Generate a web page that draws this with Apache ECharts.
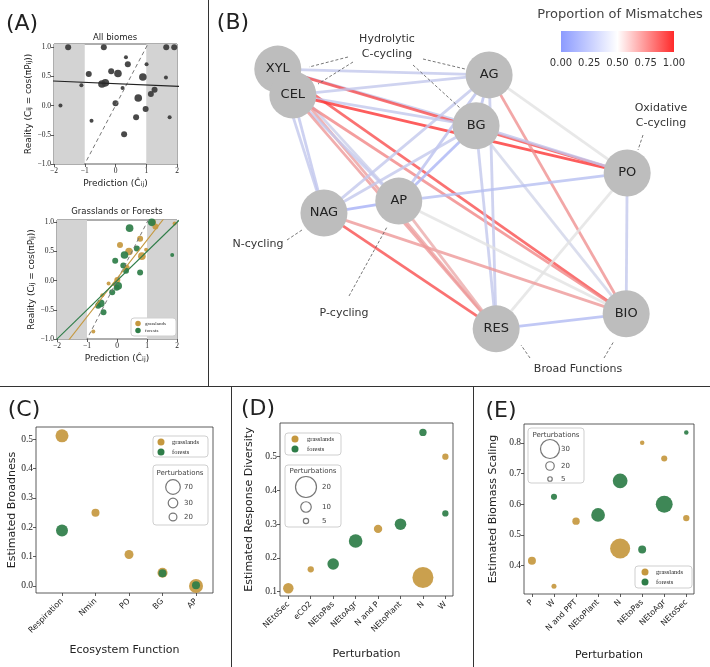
<!DOCTYPE html>
<html><head><meta charset="utf-8">
<script src="https://cdn.jsdelivr.net/npm/echarts@6/dist/echarts.min.js"></script>
<style>html,body{margin:0;padding:0;background:#fff}#c{width:710px;height:667px}</style>
</head><body><div id="c"></div>
<script>
// ================= DATA =================
// Panel A (top): all biomes  [prediction, reality, size class]
const aAllX = [-1.54,-0.38,1.65,1.91,0.34,0.40,1.01,-0.87,-0.14,0.08,0.89,1.64,-1.11,-0.44,-0.33,0.23,1.27,1.15,-1.79,0.00,0.74,0.98,0.67,-0.78,1.76,0.28];
const aAllY = [1.00,1.00,1.00,1.00,0.83,0.71,0.71,0.54,0.59,0.55,0.49,0.48,0.35,0.37,0.39,0.30,0.27,0.20,0.00,0.04,0.13,-0.06,-0.20,-0.26,-0.20,-0.49];
const aAllS = [2,2,2,2,1,2,1,2,2,3,3,1,1,3,3,1,2,2,1,2,3,2,2,1,1,2];
const aAllFit = [-0.0225, 0.375];           // slope, intercept
// Panel A (bottom): grasslands / forests
const aGrassX = [0.77,0.10,0.40,0.83,0.97,1.28,1.92,0.32,0.01,-0.28,-0.49,-0.64,-0.79,-0.09,1.20];
const aGrassY = [0.72,0.61,0.50,0.42,0.53,0.93,0.98,0.22,0.01,-0.05,-0.25,-0.40,-0.87,-0.06,1.00];
const aGrassS = [2,2,3,3,1,2,1,2,2,1,1,1,1,1,2];
const aForestX = [0.42,1.16,0.66,0.25,-0.06,0.21,0.30,0.77,1.84,0.04,-0.01,-0.16,-0.54,-0.63,-0.45];
const aForestY = [0.90,1.00,0.55,0.44,0.34,0.26,0.17,0.14,0.44,-0.09,-0.12,-0.20,-0.39,-0.43,-0.54];
const aForestS = [3,3,2,3,2,2,2,2,1,3,2,2,3,2,2];
const aGrassFit = [0.657, 0.038];
const aForestFit = [0.50, 0.0];
const aBands = [[-2,-1],[1,2]];
const aYTicks = [-1,-0.5,0,0.5,1];

// Panel B: network
const nodeNames = ['XYL','CEL','AG','BG','PO','NAG','AP','RES','BIO'];
const nodeX = [1.39,1.69,5.60,5.34,8.35,2.31,3.80,5.74,8.33];
const nodeY = [8.21,7.54,8.06,6.74,5.52,4.48,4.79,1.48,1.87];
const edgeFrom = ['XYL','XYL','XYL','XYL','XYL','XYL','XYL','CEL','CEL','CEL','CEL','CEL','CEL','CEL','AG','AG','AG','AG','AG','AG','BG','BG','BG','BG','BG','PO','PO','PO','NAG','NAG','NAG','AP','AP','RES'];
const edgeTo   = ['AG','BG','NAG','AP','RES','BIO','PO','AG','BG','NAG','AP','RES','BIO','PO','BG','NAG','AP','RES','PO','BIO','NAG','AP','RES','PO','BIO','AP','RES','BIO','AP','RES','BIO','RES','BIO','BIO'];
const edgeMismatch = [0.32,0.32,0.32,0.36,0.68,0.90,0.90,0.32,0.32,0.30,0.32,0.70,0.75,0.97,0.27,0.32,0.27,0.32,0.50,0.72,0.32,0.18,0.32,0.30,0.40,0.25,0.50,0.32,0.15,0.90,0.70,0.65,0.50,0.22];
const cbarTicks = [0, 0.25, 0.5, 0.75, 1];

// Panel C
const cCats = ['Respiration','Nmin','PO','BG','AP'];
const cGrassIdx = [0,1,2,3,4], cGrassY = [0.511,0.249,0.107,0.045,0.000], cGrassN = [55,21,26,33,64];
const cForestIdx = [0,3,4], cForestY = [0.189,0.043,0.002], cForestN = [47,21,21];
const cYTicks = [0,0.1,0.2,0.3,0.4,0.5];
const cSizeLegend = [70,30,20];

// Panel D
const dCats = ['NEtoSec','eCO2','NEtoPas','NEtoAgr','N and P','NEtoPlant','N','W'];
const dGrassIdx = [0,1,4,6,7], dGrassY = [0.110,0.166,0.286,0.142,0.500], dGrassN = [10,6,8,20,6];
const dForestIdx = [2,3,5,6,7], dForestY = [0.182,0.250,0.300,0.572,0.332], dForestN = [11,13,11,7,6];
const dYTicks = [0.1,0.2,0.3,0.4,0.5];
const dSizeLegend = [20,10,5];

// Panel E
const eCats = ['P','W','N and PPT','NEtoPlant','N','NEtoPas','NEtoAgr','NEtoSec'];
const eGrassIdx = [0,1,2,4,5,6,7], eGrassY = [0.416,0.333,0.545,0.456,0.800,0.749,0.555], eGrassN = [18,7,16,31,5,11,12];
const eForestIdx = [1,3,4,5,6,7], eForestY = [0.624,0.565,0.676,0.453,0.600,0.833], eForestN = [11,25,26,18,28,5];
const eYTicks = [0.4,0.5,0.6,0.7,0.8];
const eSizeLegend = [30,20,5];

// ================= STYLE / HELPERS =================
const SANS = '"DejaVu Sans", "Noto Sans", sans-serif';
const SERIF = '"Liberation Serif", "DejaVu Serif", serif';
const GRASS = '#c5983f', FOREST = '#2e7d48', INK = '#222';

const aSize = s => [0, 4, 6, 7.6][s];
const cSize = n => 1.75 * Math.sqrt(n);
const dSize = n => 1.05 * n;
const eSize = n => n <= 20 ? 4.5 + (n - 5) * 4 / 15 : 8.5 + (n - 20) * 1.05;

function hex(c){return [parseInt(c.slice(1,3),16),parseInt(c.slice(3,5),16),parseInt(c.slice(5,7),16)];}
function mix(a,b,t){const A=hex(a),B=hex(b);return 'rgb('+A.map((v,i)=>Math.round(v+(B[i]-v)*t)).join(',')+')';}
function edgeColor(v){return v<0.5?mix('#8c9bff','#e2e2e2',v/0.5):mix('#e2e2e2','#ff2a2a',(v-0.5)/0.5);}
const fmt1 = v => (Math.abs(v)<1e-9?0:v).toFixed(1).replace('-','\u2212');
const fmtInt = v => String(v).replace('-','\u2212');

const SUBRICH = {sub:{fontSize:6.5, fontFamily:SANS, color:INK, verticalAlign:'bottom', lineHeight:8}};
const realityName = 'Reality (C{sub|ij} = cos(\u03c0P{sub|ij}))';
const predName = 'Prediction (\u0108{sub|ij})';

function frameGrid(left, top, width, height){
  return {left, top, width, height, show:true, borderColor:'#333', borderWidth:0.8, backgroundColor:'rgba(0,0,0,0)'};
}
function vAxis(gi, min, max, ticks, fmt, fs, extra){
  return Object.assign({
    type:'value', gridIndex:gi, min, max,
    splitLine:{show:false}, axisLine:{show:false, onZero:false},
    axisTick:{show:true, length:3, customValues:ticks, lineStyle:{color:'#333', width:0.8}},
    axisLabel:{show:true, customValues:ticks, formatter:fmt, fontFamily:SERIF, fontSize:fs, color:INK, margin:3},
    nameTextStyle:{fontFamily:SANS, color:INK},
    nameLocation:'middle'
  }, extra || {});
}
function catAxis(gi, min, max, cats, name, gap){
  const ticks = cats.map((c,i)=>i);
  return vAxis(gi, min, max, ticks, v => cats[Math.round(v)], 8, {
    name, nameGap:gap, nameTextStyle:{fontFamily:SANS, color:INK, fontSize:11},
    axisLabel:{show:true, customValues:ticks, formatter:v => cats[Math.round(v)], rotate:45, fontFamily:SANS, fontSize:8, color:INK, margin:7}
  });
}
function fitLine(f){return [[-2.2, f[1]+f[0]*-2.2],[2.2, f[1]+f[0]*2.2]];}
function scat(xi, yi, data, sizeFn, color, z){
  return {type:'scatter', xAxisIndex:xi, yAxisIndex:yi, data, symbolSize:v=>sizeFn(v[2]),
    itemStyle:{color, opacity:0.92}, z:z||3, silent:true};
}
function lineS(xi, data, color, dash, w){
  return {type:'line', xAxisIndex:xi, yAxisIndex:xi, data, showSymbol:false, symbol:'none', clip:true, silent:true,
    lineStyle:{color, width:w||1, type:dash?[4,3]:'solid'}, z:4};
}
function aX(gi){
  return vAxis(gi,-2,2,null,fmtInt,7.5,{interval:1,
    axisTick:{show:true,length:3,lineStyle:{color:'#333',width:0.8}},
    axisLabel:{formatter:fmtInt,fontFamily:SERIF,fontSize:7.5,color:INK,margin:3},
    name:predName, nameGap:15, nameTextStyle:{fontFamily:SANS,color:INK,fontSize:9,rich:SUBRICH}});
}
function aY(gi,max){
  return vAxis(gi,-1,max,aYTicks,fmt1,7.5,{name:realityName, nameGap:21, nameTextStyle:{fontFamily:SANS,color:INK,fontSize:9,rich:SUBRICH}});
}

// ================= AXES =================
const xAxes = [
  aX(0), aX(1),
  {type:'value', gridIndex:2, min:0, max:10, show:false},
  catAxis(3, -0.776, 4.507, cCats, 'Ecosystem Function', 52),
  catAxis(4, -0.37, 7.34, dCats, 'Perturbation', 53),
  catAxis(5, -0.36, 7.35, eCats, 'Perturbation', 56)
];
const yAxes = [
  aY(0,1.055), aY(1,1.04),
  {type:'value', gridIndex:2, min:0, max:10, show:false},
  vAxis(3,-0.024,0.541,cYTicks,fmt1,9.5,{name:'Estimated Broadness', nameGap:14, nameTextStyle:{fontFamily:SANS,color:INK,fontSize:11}}),
  vAxis(4,0.087,0.6,dYTicks,fmt1,9.5,{name:'Estimated Response Diversity', nameGap:25, nameTextStyle:{fontFamily:SANS,color:INK,fontSize:11}}),
  vAxis(5,0.308,0.861,eYTicks,fmt1,9.5,{name:'Estimated Biomass Scaling', nameGap:25, nameTextStyle:{fontFamily:SANS,color:INK,fontSize:11}})
];

// ================= SERIES =================
const zip3 = (a,b,c) => a.map((v,i)=>[v,b[i],c[i]]);
const series = [];
// bands
[0,1].forEach(k=>series.push({type:'line', xAxisIndex:k, yAxisIndex:k, data:[], silent:true, z:1,
  markArea:{silent:true, itemStyle:{color:'#d3d3d3', opacity:1}, data: aBands.map(b=>[{xAxis:b[0]},{xAxis:b[1]}])}}));
// A top
series.push(lineS(0, [[-2,-2],[2,2]], '#777', true, 1));
series.push(scat(0,0, zip3(aAllX,aAllY,aAllS), aSize, '#3a3a3a'));
series.push(lineS(0, fitLine(aAllFit), '#222', false, 1.1));
// A bottom
series.push(lineS(1, [[-2,-2],[2,2]], '#777', true, 1));
series.push(scat(1,1, zip3(aGrassX,aGrassY,aGrassS), aSize, GRASS));
series.push(scat(1,1, zip3(aForestX,aForestY,aForestS), aSize, FOREST));
series.push(lineS(1, fitLine(aGrassFit), GRASS, false, 1.1));
series.push(lineS(1, fitLine(aForestFit), FOREST, false, 1.1));
// B network
series.push({type:'graph', coordinateSystem:'cartesian2d', xAxisIndex:2, yAxisIndex:2, silent:true, z:3,
  data: nodeNames.map((n,i)=>({name:n, value:[nodeX[i], nodeY[i]]})),
  links: edgeFrom.map((f,i)=>({source:f, target:edgeTo[i], lineStyle:{color:edgeColor(edgeMismatch[i])}})),
  symbol:'circle', symbolSize:47, itemStyle:{color:'#bdbdbd', opacity:1},
  label:{show:true, position:'inside', formatter:'{b}', fontFamily:SANS, fontSize:13, color:INK},
  lineStyle:{width:2.8, opacity:0.8, curveness:0},
  emphasis:{disabled:true}
});
// C
series.push(scat(3,3, zip3(cGrassIdx,cGrassY,cGrassN), cSize, GRASS));
series.push(scat(3,3, zip3(cForestIdx,cForestY,cForestN), cSize, FOREST));
// D
series.push(scat(4,4, zip3(dGrassIdx,dGrassY,dGrassN), dSize, GRASS));
series.push(scat(4,4, zip3(dForestIdx,dForestY,dForestN), dSize, FOREST));
// E
series.push(scat(5,5, zip3(eGrassIdx,eGrassY,eGrassN), eSize, GRASS));
series.push(scat(5,5, zip3(eForestIdx,eForestY,eForestN), eSize, FOREST));

// ================= GRAPHIC (frames, labels, legends, annotations) =================
const G = [];
function txt(t, x, y, size, opts){
  opts = opts || {};
  G.push({type:'text', x, y, z:50, silent:true, style:{text:t, fill:opts.color||INK,
    font:(opts.weight||'normal')+' '+size+'px '+(opts.family||SANS),
    align:opts.align||'center', verticalAlign:'middle', textAlign:opts.align||'center', textVerticalAlign:'middle'}});
}
function ln(x1,y1,x2,y2,opts){
  opts = opts || {};
  G.push({type:'line', z:50, silent:true, shape:{x1,y1,x2,y2}, style:{stroke:opts.color||'#333', lineWidth:opts.w||1, lineDash:opts.dash||null}});
}
function box(x,y,w,h){G.push({type:'rect', z:40, silent:true, shape:{x,y,width:w,height:h,r:3}, style:{fill:'#fff', stroke:'#cfcfcf', lineWidth:1}});}
function dot(cx,cy,d,fill,stroke){G.push({type:'circle', z:45, silent:true, shape:{cx,cy,r:d/2}, style:{fill:fill||'none', stroke:stroke||null, lineWidth:1.2}});}

// panel dividers
ln(208.5,0,208.5,386,{color:'#333',w:1});
ln(0,386.5,710,386.5,{color:'#333',w:1.2});
ln(231.5,386,231.5,667,{color:'#333',w:1});
ln(473.5,386,473.5,667,{color:'#333',w:1});
// panel letters
txt('(A)',22,24,22); txt('(B)',233,23,22); txt('(C)',24,410,22); txt('(D)',258,409,22); txt('(E)',501,411,22);
// A titles
txt('All biomes',115,38,8.5); txt('Grasslands or Forests',117,212,8.5);
// A bottom legend
box(131,318,45,18);
dot(138,323.5,5.5,GRASS); dot(138,330.5,5.5,FOREST);
txt('grasslands',145,323.5,5,{align:'left',family:SERIF}); txt('forests',145,330.5,5,{align:'left',family:SERIF});

// B annotations
const dash = {color:'#555', w:0.8, dash:[3,2]};
txt('Hydrolytic',387,39,11,{color:'#333'}); txt('C-cycling',387,54,11,{color:'#333'});
ln(348,57,309,67,dash); ln(353,62,318,84,dash); ln(423,59,465,69,dash); ln(413,65,460,108,dash);
txt('Oxidative',661,108,11,{color:'#333'}); txt('C-cycling',661,123,11,{color:'#333'}); ln(643,135,638,150,dash);
txt('N-cycling',258,244,11,{color:'#333'}); ln(287,240,302,230,dash);
txt('P-cycling',344,313,11,{color:'#333'}); ln(349,296,387,227,dash);
txt('Broad Functions',578,369,11,{color:'#333'}); ln(530,358,521,345,dash); ln(604,358,614,341,dash);
// colorbar
txt('Proportion of Mismatches',620,15,13,{color:'#444'});
G.push({type:'rect', z:40, silent:true, shape:{x:561,y:31,width:113,height:21},
  style:{fill:{type:'linear',x:0,y:0,x2:1,y2:0,colorStops:[{offset:0,color:'#8c9bff'},{offset:0.5,color:'#ffffff'},{offset:1,color:'#ff2a2a'}]}}});
cbarTicks.forEach(t=>txt(t.toFixed(2),561+113*t,63,10,{color:'#333'}));

// C legends
box(153,436,55,21);
dot(161,442,7,GRASS); dot(161,452,7,FOREST);
txt('grasslands',172,442,6.5,{align:'left',family:SERIF}); txt('forests',172,452,6.5,{align:'left',family:SERIF});
box(153,465,55,60);
txt('Perturbations',180,473,7,{color:'#444'});
[487,503,517].forEach((y,i)=>{dot(173,y,cSize(cSizeLegend[i]),'none','#777'); txt(String(cSizeLegend[i]),184,y,7,{align:'left',color:'#444'});});
// D legends
box(285,433,56,22);
dot(295,439,7,GRASS); dot(295,449,7,FOREST);
txt('grasslands',307,439,6.5,{align:'left',family:SERIF}); txt('forests',307,449,6.5,{align:'left',family:SERIF});
box(285,465,56,62);
txt('Perturbations',313,471,7,{color:'#444'});
[487,507,521].forEach((y,i)=>{dot(306,y,dSize(dSizeLegend[i]),'none','#777'); txt(String(dSizeLegend[i]),322,y,7,{align:'left',color:'#444'});});
// E legends
box(528,428,56,55);
txt('Perturbations',556,435,7,{color:'#444'});
[449,466,479].forEach((y,i)=>{dot(550,y,eSize(eSizeLegend[i]),'none','#777'); txt(String(eSizeLegend[i]),561,y,7,{align:'left',color:'#444'});});
box(635,566,57,22);
dot(645,572,7,GRASS); dot(645,582,7,FOREST);
txt('grasslands',656,572,6.5,{align:'left',family:SERIF}); txt('forests',656,582,6.5,{align:'left',family:SERIF});

// ================= CHART =================
const chart = echarts.init(document.getElementById('c'), null, {renderer:'canvas'});
chart.setOption({
  animation:false,
  backgroundColor:'#ffffff',
  grid:[frameGrid(54,44,123,120), frameGrid(57,220,120,119),
        {left:208,top:0,width:502,height:386,show:false},
        frameGrid(36,427,177,166), frameGrid(280,423,173,173), frameGrid(524,424,170,170)],
  xAxis:xAxes, yAxis:yAxes, series, graphic:G
});
</script></body></html>
